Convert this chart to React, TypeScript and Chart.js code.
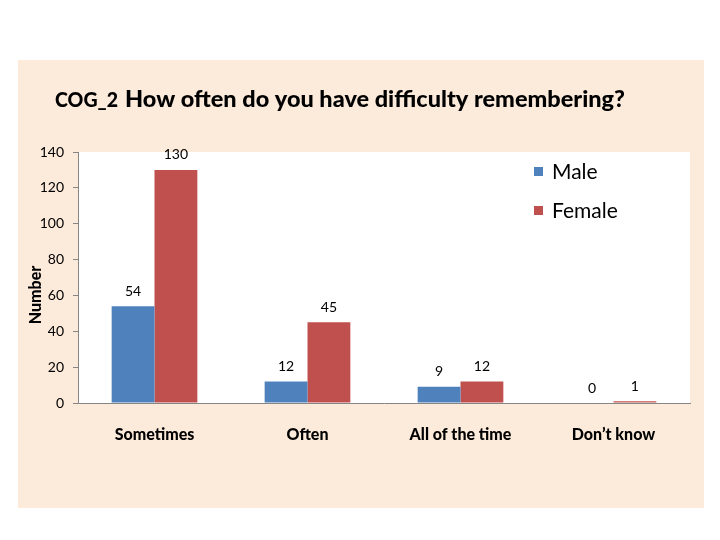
import React, { useEffect, useRef } from "react";
import { Chart, registerables } from "chart.js";

Chart.register(...registerables);

const categories = ["Sometimes", "Often", "All of the time", "Don\u2019t know"];
const maleValues = [54, 12, 9, 0];
const femaleValues = [130, 45, 12, 1];
const yTicks = [0, 20, 40, 60, 80, 100, 120, 140];
const titlePrefix = "COG_2";
const titleMain = "How often do you have difficulty remembering?";
const yAxisTitle = "Number";

const FONT = "Lato, 'Open Sans', 'DejaVu Sans Condensed', sans-serif";

const decorPlugin = {
  id: "decor",
  beforeDraw(chart: any) {
    const ctx = chart.ctx;
    const { left, top, right, bottom } = chart.chartArea;
    ctx.save();
    ctx.fillStyle = "#ffffff";
    ctx.fillRect(0, 0, chart.width, chart.height);
    ctx.fillStyle = "#FCEADB";
    ctx.fillRect(18, 60, 686, 448);
    ctx.fillStyle = "#ffffff";
    ctx.fillRect(left, top, right - left, bottom - top);
    ctx.restore();
  },
  afterDraw(chart: any) {
    const ctx = chart.ctx;
    ctx.save();
    ctx.fillStyle = "#000000";
    ctx.textBaseline = "alphabetic";
    // title prefix
    ctx.font = `900 21px ${FONT}`;
    let w = ctx.measureText(titlePrefix).width;
    ctx.save();
    ctx.translate(55, 107);
    ctx.scale(63 / w, 1);
    ctx.fillText(titlePrefix, 0, 0);
    ctx.restore();
    ctx.font = `900 22px ${FONT}`;
    w = ctx.measureText(titleMain).width;
    ctx.save();
    ctx.translate(125, 107);
    ctx.scale(500 / w, 1);
    ctx.fillText(titleMain, 0, 0);
    ctx.restore();

    // y axis title
    ctx.save();
    ctx.translate(41, 295);
    ctx.rotate(-Math.PI / 2);
    ctx.font = `900 16px ${FONT}`;
    ctx.textAlign = "center";
    ctx.fillText(yAxisTitle, 0, 0);
    ctx.restore();

    // data labels
    ctx.font = `14px ${FONT}`;
    ctx.textAlign = "center";
    ctx.textBaseline = "bottom";
    chart.data.datasets.forEach((ds: any, i: number) => {
      const meta = chart.getDatasetMeta(i);
      meta.data.forEach((bar: any, j: number) => {
        ctx.fillText(String(ds.data[j]), bar.x, bar.y - 8);
      });
    });

    // legend
    ctx.textAlign = "left";
    ctx.textBaseline = "alphabetic";
    ctx.font = `21px ${FONT}`;
    const legY = [171, 210];
    chart.data.datasets.forEach((ds: any, i: number) => {
      ctx.fillStyle = ds.backgroundColor;
      ctx.fillRect(534, legY[i] - 4, 9, 9);
      ctx.fillStyle = "#000000";
      ctx.fillText(ds.label, 552, legY[i] + 8);
    });
    ctx.restore();
  },
};

export default function App() {
  const ref = useRef<HTMLCanvasElement>(null);
  useEffect(() => {
    if (!ref.current) return;
    const chart = new Chart(ref.current, {
      type: "bar",
      data: {
        labels: categories,
        datasets: [
          { label: "Male", data: maleValues, backgroundColor: "#4F81BD", categoryPercentage: 0.56, barPercentage: 1 },
          { label: "Female", data: femaleValues, backgroundColor: "#C0504D", categoryPercentage: 0.56, barPercentage: 1 },
        ],
      },
      options: {
        animation: false,
        responsive: false,
        devicePixelRatio: 1,
        layout: { padding: { left: 0, top: 152, right: 30, bottom: 0 } },
        plugins: { legend: { display: false }, title: { display: false }, tooltip: { enabled: false } },
        scales: {
          x: {
            afterFit: (s: any) => { s.height = 137; },
            grid: { display: false, drawTicks: false },
            border: { display: true, color: "#868686" },
            ticks: { padding: 22, color: "#000", font: { family: FONT, size: 16, weight: "900" } },
          },
          y: {
            min: 0,
            max: 140,
            afterFit: (s: any) => { s.width = 78; },
            afterBuildTicks: (s: any) => { s.ticks = yTicks.map((v) => ({ value: v })); },
            grid: { display: true, drawOnChartArea: false, drawTicks: true, tickLength: 5, color: "#868686" },
            border: { display: true, color: "#868686" },
            ticks: { padding: 9, color: "#000", font: { family: FONT, size: 14 } },
          },
        },
      },
      plugins: [decorPlugin],
    });
    return () => chart.destroy();
  }, []);
  return (
    <div style={{ position: "fixed", left: 0, top: 0, width: 720, height: 540 }}>
      <canvas ref={ref} width={720} height={540} style={{ width: 720, height: 540 }} />
    </div>
  );
}
